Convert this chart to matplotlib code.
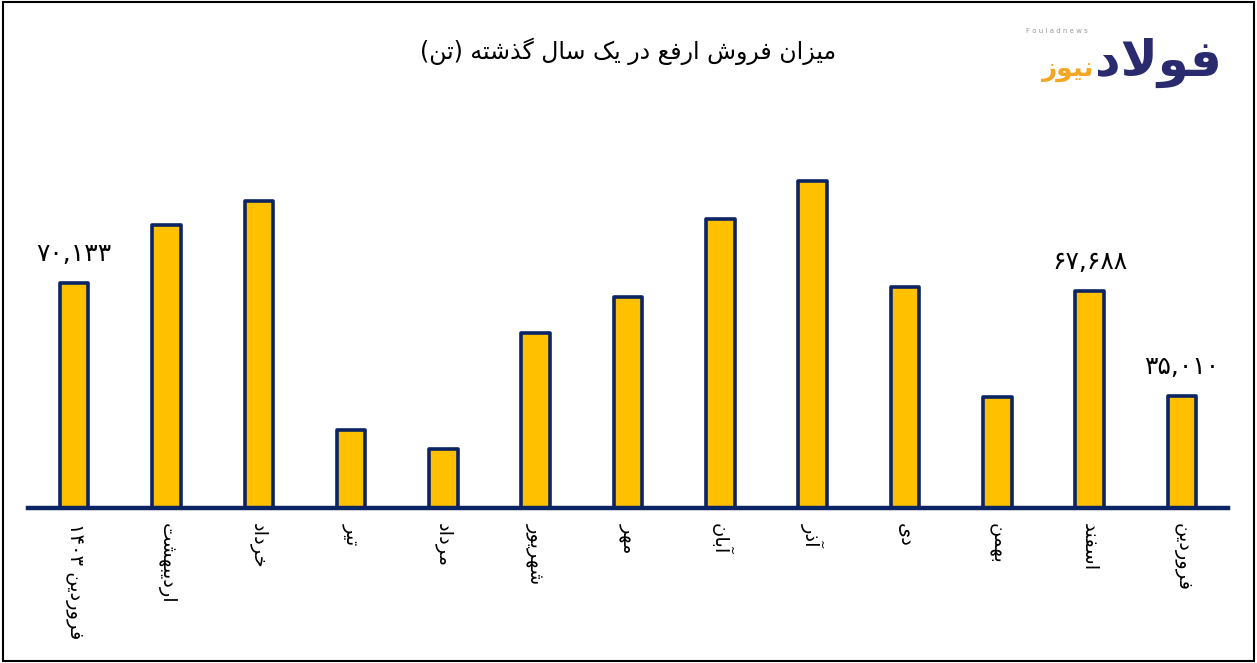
import re
import matplotlib
matplotlib.use("Agg")
from matplotlib import pyplot as plt
from matplotlib.patches import Rectangle

# data
months = ["فروردین ۱۴۰۳", "اردیبهشت", "خرداد", "تیر", "مرداد", "شهریور", "مهر",
          "آبان", "آذر", "دی", "بهمن", "اسفند", "فروردین"]
sales = [70133, 88200, 95700, 24300, 18400, 54500, 65800,
         90100, 101900, 68900, 34600, 67688, 35010]
labelled = [0, 11, 12]
title = "میزان فروش ارفع در یک سال گذشته (تن)"

# minimal arabic/persian shaping (matplotlib has no bidi / shaping)
FORMS = {
    "ا": ("\uFE8D", "\uFE8E", None, None), "آ": ("\uFE81", "\uFE82", None, None),
    "د": ("\uFEA9", "\uFEAA", None, None), "ذ": ("\uFEAB", "\uFEAC", None, None),
    "ر": ("\uFEAD", "\uFEAE", None, None), "ز": ("\uFEAF", "\uFEB0", None, None),
    "و": ("\uFEED", "\uFEEE", None, None),
    "ب": ("\uFE8F", "\uFE90", "\uFE91", "\uFE92"), "ت": ("\uFE95", "\uFE96", "\uFE97", "\uFE98"),
    "خ": ("\uFEA5", "\uFEA6", "\uFEA7", "\uFEA8"), "س": ("\uFEB1", "\uFEB2", "\uFEB3", "\uFEB4"),
    "ش": ("\uFEB5", "\uFEB6", "\uFEB7", "\uFEB8"), "ع": ("\uFEC9", "\uFECA", "\uFECB", "\uFECC"),
    "ف": ("\uFED1", "\uFED2", "\uFED3", "\uFED4"), "ل": ("\uFEDD", "\uFEDE", "\uFEDF", "\uFEE0"),
    "م": ("\uFEE1", "\uFEE2", "\uFEE3", "\uFEE4"), "ن": ("\uFEE5", "\uFEE6", "\uFEE7", "\uFEE8"),
    "ه": ("\uFEE9", "\uFEEA", "\uFEEB", "\uFEEC"), "ک": ("\uFB8E", "\uFB8F", "\uFB90", "\uFB91"),
    "گ": ("\uFB92", "\uFB93", "\uFB94", "\uFB95"), "ی": ("\uFBFC", "\uFBFD", "\uFBFE", "\uFBFF"),
}


def dual(c):
    return c in FORMS and FORMS[c][2] is not None


def shape(s):
    s = s.replace("لا", "\uE000")
    out = []
    for i, c in enumerate(s):
        prev = s[i - 1] if i > 0 else ""
        nxt = s[i + 1] if i + 1 < len(s) else ""
        pj = dual(prev)
        if c == "\uE000":
            out.append("\uFEFC" if pj else "\uFEFB")
            continue
        if c not in FORMS:
            out.append(c)
            continue
        nj = dual(c) and (nxt in FORMS or nxt == "\uE000")
        iso, fin, ini, med = FORMS[c]
        if pj and nj:
            out.append(med)
        elif pj:
            out.append(fin)
        elif nj:
            out.append(ini)
        else:
            out.append(iso)
    return "".join(out)


def rtl(s):
    v = shape(s)[::-1]
    v = v.translate(str.maketrans("()", ")("))
    return re.sub(r"[۰-۹,]+", lambda m: m.group(0)[::-1], v)


def fa_num(n):
    return f"{n:,}".translate(str.maketrans("0123456789", "۰۱۲۳۴۵۶۷۸۹"))


navy = "#0b2463"
gold = "#FFC000"

fig = plt.figure(figsize=(12.57, 6.63), dpi=100)
ax = fig.add_axes([0.0223, 0.2338, 0.9547, 0.60])

x = range(len(months))
ax.bar(x, sales, width=0.31, color=gold, edgecolor=navy, linewidth=2.6, joinstyle="round")
for i in labelled:
    ax.text(i, sales[i] + 5200, fa_num(sales[i]), ha="center", va="bottom",
            fontsize=18, color="black")

ax.set_xlim(-0.5, 12.5)
ax.set_ylim(0, 124000)
ax.set_xticks(list(x))
ax.set_xticklabels([rtl(m) for m in months], rotation=-90, fontsize=14,
                   ha="center", va="top")
ax.tick_params(axis="x", length=0, pad=11)
ax.set_yticks([])
for sp in ["left", "right", "top"]:
    ax.spines[sp].set_visible(False)
ax.spines["bottom"].set_color(navy)
ax.spines["bottom"].set_linewidth(3.2)

fig.text(0.5, 0.922, rtl(title), ha="center", va="center", fontsize=17)

# logo
fig.text(0.816, 0.953, "F o u l a d n e w s", fontsize=5, color="#999999",
         ha="left", va="center")
fig.text(0.972, 0.905, rtl("فولاد"), fontsize=36, fontweight="bold", color="#2a2a6e",
         ha="right", va="center")
fig.text(0.870, 0.895, rtl("نیوز"), fontsize=19, fontweight="bold", color="#f5a623",
         ha="right", va="center")

fig.patches.append(Rectangle((0.002, 0.003), 0.996, 0.994, transform=fig.transFigure,
                             fill=False, edgecolor="black", linewidth=1.5))

fig.savefig("out.png", dpi=100)
